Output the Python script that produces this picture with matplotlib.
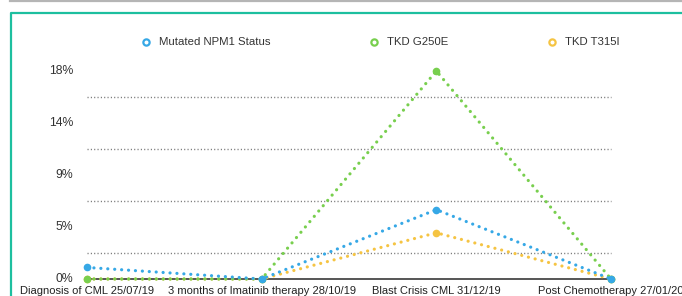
import matplotlib
matplotlib.use("Agg")
import matplotlib.pyplot as plt
from matplotlib.lines import Line2D

plt.rcParams['font.family'] = ['Liberation Sans', 'DejaVu Sans']

categories = ["Diagnosis of CML 25/07/19", "3 months of Imatinib therapy 28/10/19",
              "Blast Crisis CML 31/12/19", "Post Chemotherapy 27/01/20"]
npm1 = [1.0, 0.0, 6.0, 0.0]
g250e = [0.0, 0.0, 18.0, 0.0]
t315i = [0.0, 0.0, 4.0, 0.0]
series_names = ["Mutated NPM1 Status", "TKD G250E", "TKD T315I"]
colors = ["#36A8E6", "#78CF4E", "#F5C443"]
ytick_vals = [0, 4.5, 9, 13.5, 18]
ytick_labels = ["0%", "5%", "9%", "14%", "18%"]
grid_vals = [2.25, 6.75, 11.25, 15.75]

W, H = 682, 296
fig = plt.figure(figsize=(W / 100, H / 100), dpi=100)

# frame decorations
fig.add_artist(Line2D([10 / W, 1], [1 - 0.8 / H, 1 - 0.8 / H], color="#b5b5b5", lw=1.6))
fig.add_artist(Line2D([11 / W, 11 / W, 1], [0, 1 - 13 / H, 1 - 13 / H], color="#1DBF9F", lw=1.6))

x0, x1 = 87, 611
y0, y1 = 279, 71
ax = fig.add_axes([x0 / W, (H - y0) / H, (x1 - x0) / W, (y0 - y1) / H])
ax.set_xlim(0, 3)
ax.set_ylim(0, 18)
for s in ax.spines.values():
    s.set_visible(False)
ax.set_xticks([])
ax.set_yticks([])

xs = list(range(len(categories)))
for g in grid_vals:
    ax.plot([0, 3], [g, g], color="#777777", lw=1.0, linestyle=(0, (0.8, 1.6)), clip_on=False)
ax.plot([0, 3], [0, 0], color="#555555", lw=1.4, clip_on=False, zorder=2)

data = [t315i, g250e, npm1]
cols = [colors[2], colors[1], colors[0]]
for i, (vals, c) in enumerate(zip(data, cols)):
    ax.plot(xs, vals, color=c, lw=2.3, linestyle=(0, (0.02, 2.15)), dash_capstyle='round',
            marker='o', markersize=5.5, markeredgewidth=0, clip_on=False, zorder=3 + i)

for v, lab in zip(ytick_vals, ytick_labels):
    ax.text(-14 / 174.7, v, lab, ha='right', va='center', fontsize=8.8, color="#333333")

for x, lab in zip(xs, categories):
    fig.text((x0 + x * (x1 - x0) / 3) / W, 1 - 291 / H, lab, ha='center', va='center',
             fontsize=8.0, color="#222222")

# legend
leg_x = [146, 374, 552]
for lx, name, c in zip(leg_x, series_names, colors):
    fig.add_artist(Line2D([lx / W], [1 - 42 / H], marker='o', markersize=4.5, markerfacecolor='white',
                          markeredgecolor=c, markeredgewidth=1.6, linestyle='none'))
    fig.text((lx + 13) / W, 1 - 42 / H, name, ha='left', va='center', fontsize=8.2, color="#333333")

fig.savefig("out.png", dpi=100)
